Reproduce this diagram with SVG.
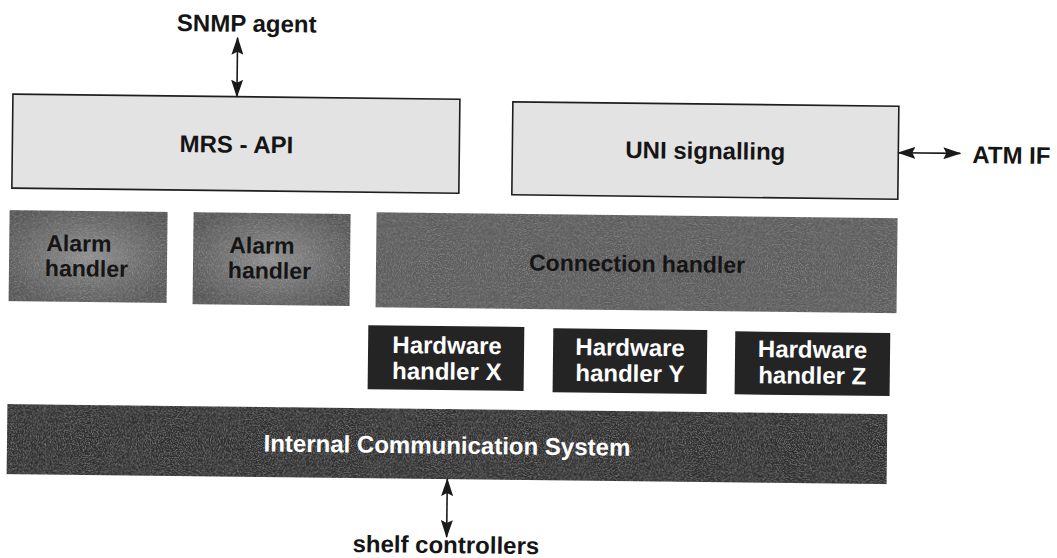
<svg xmlns="http://www.w3.org/2000/svg" width="1057" height="558" viewBox="0 0 1057 558">
  <style>
    text { font-family: "Liberation Sans", Arial, sans-serif; font-weight: bold; font-size: 24px; }
    .mid { text-anchor: middle; }
    .dark { fill: #151515; }
    .light { fill: #ffffff; }
    .small { font-size: 23px; }
    .api { fill: #e3e3e3; stroke: #1e1e1e; stroke-width: 1.6; }
    .alarm { fill: url(#alarmShade); filter: url(#grain); }
    .conn { fill: #5c5c5c; filter: url(#grain); }
    .hw { fill: #242424; }
    .ics { fill: #2e2e2e; filter: url(#grain); }
    .link { stroke: #1a1a1a; stroke-width: 1.6; fill: none; marker-start: url(#head); marker-end: url(#head); }
  </style>
  <defs>
    <radialGradient id="alarmShade" cx="0.5" cy="0.5" r="0.6">
      <stop offset="0" stop-color="#8e8e8e"/>
      <stop offset="0.55" stop-color="#6c6c6c"/>
      <stop offset="1" stop-color="#545454"/>
    </radialGradient>
    <!-- printed halftone speckle on the shaded boxes -->
    <filter id="grain" x="0" y="0" width="1" height="1">
      <feTurbulence type="fractalNoise" baseFrequency="0.85" numOctaves="2" seed="7" result="noise"/>
      <feColorMatrix in="noise" type="matrix" values="0 0 0 0 1  0 0 0 0 1  0 0 0 0 1  0.45 0 0 0 -0.2" result="speck"/>
      <feComposite in="speck" in2="SourceGraphic" operator="in" result="clipped"/>
      <feMerge>
        <feMergeNode in="SourceGraphic"/>
        <feMergeNode in="clipped"/>
      </feMerge>
    </filter>
    <marker id="head" viewBox="0 0 18 12" markerWidth="18" markerHeight="12" refX="17" refY="6" markerUnits="userSpaceOnUse" orient="auto-start-reverse">
      <path d="M0,0 L18,6 L0,12 L3,6 z" fill="#1a1a1a"/>
    </marker>
  </defs>

  <rect width="1057" height="558" fill="#ffffff"/>

  <!-- the whole page sits at a slight tilt -->
  <g transform="rotate(0.65)">
    <g id="snmp-agent">
      <text class="mid dark" x="247" y="29">SNMP agent</text>
    </g>

    <g id="mrs-api">
      <rect class="api" x="14" y="94" width="447" height="94"/>
      <text class="mid dark" x="238" y="150">MRS - API</text>
    </g>

    <g id="uni-signalling">
      <rect class="api" x="514" y="96" width="386" height="93"/>
      <text class="mid dark" x="707" y="151">UNI signalling</text>
    </g>

    <g id="atm-if">
      <text class="dark" x="974" y="152">ATM IF</text>
    </g>

    <g id="alarm-handler-1">
      <rect class="alarm" x="12" y="210" width="158" height="91"/>
      <text class="dark small"><tspan x="49" y="250.5">Alarm</tspan><tspan x="48" y="275.5">handler</tspan></text>
    </g>

    <g id="alarm-handler-2">
      <rect class="alarm" x="196" y="210" width="157" height="92"/>
      <text class="dark small"><tspan x="232" y="250.5">Alarm</tspan><tspan x="231" y="275.5">handler</tspan></text>
    </g>

    <g id="connection-handler">
      <rect class="conn" x="379" y="208" width="521" height="95"/>
      <text class="mid dark small" x="640" y="264.5">Connection handler</text>
    </g>

    <g id="hardware-handler-x">
      <rect class="hw" x="372" y="321" width="156" height="64"/>
      <text class="mid light"><tspan x="451" y="348.5">Hardware</tspan><tspan x="451" y="374.5">handler X</tspan></text>
    </g>

    <g id="hardware-handler-y">
      <rect class="hw" x="557" y="322" width="154" height="64"/>
      <text class="mid light"><tspan x="634" y="348.5">Hardware</tspan><tspan x="634" y="374.5">handler Y</tspan></text>
    </g>

    <g id="hardware-handler-z">
      <rect class="hw" x="739" y="323" width="155" height="63"/>
      <text class="mid light"><tspan x="816.5" y="348.5">Hardware</tspan><tspan x="816.5" y="374.5">handler Z</tspan></text>
    </g>

    <g id="internal-communication-system">
      <rect class="ics" x="12" y="404" width="880" height="70"/>
      <text class="mid light" x="452" y="448.5">Internal Communication System</text>
    </g>

    <g id="shelf-controllers">
      <text class="mid dark" x="452" y="548">shelf controllers</text>
    </g>

    <g id="connectors">
      <line class="link" x1="238" y1="35" x2="238" y2="94"/>
      <line class="link" x1="900" y1="142.5" x2="962" y2="142.5"/>
      <line class="link" x1="452.7" y1="474" x2="452.7" y2="532"/>
    </g>
  </g>
</svg>
